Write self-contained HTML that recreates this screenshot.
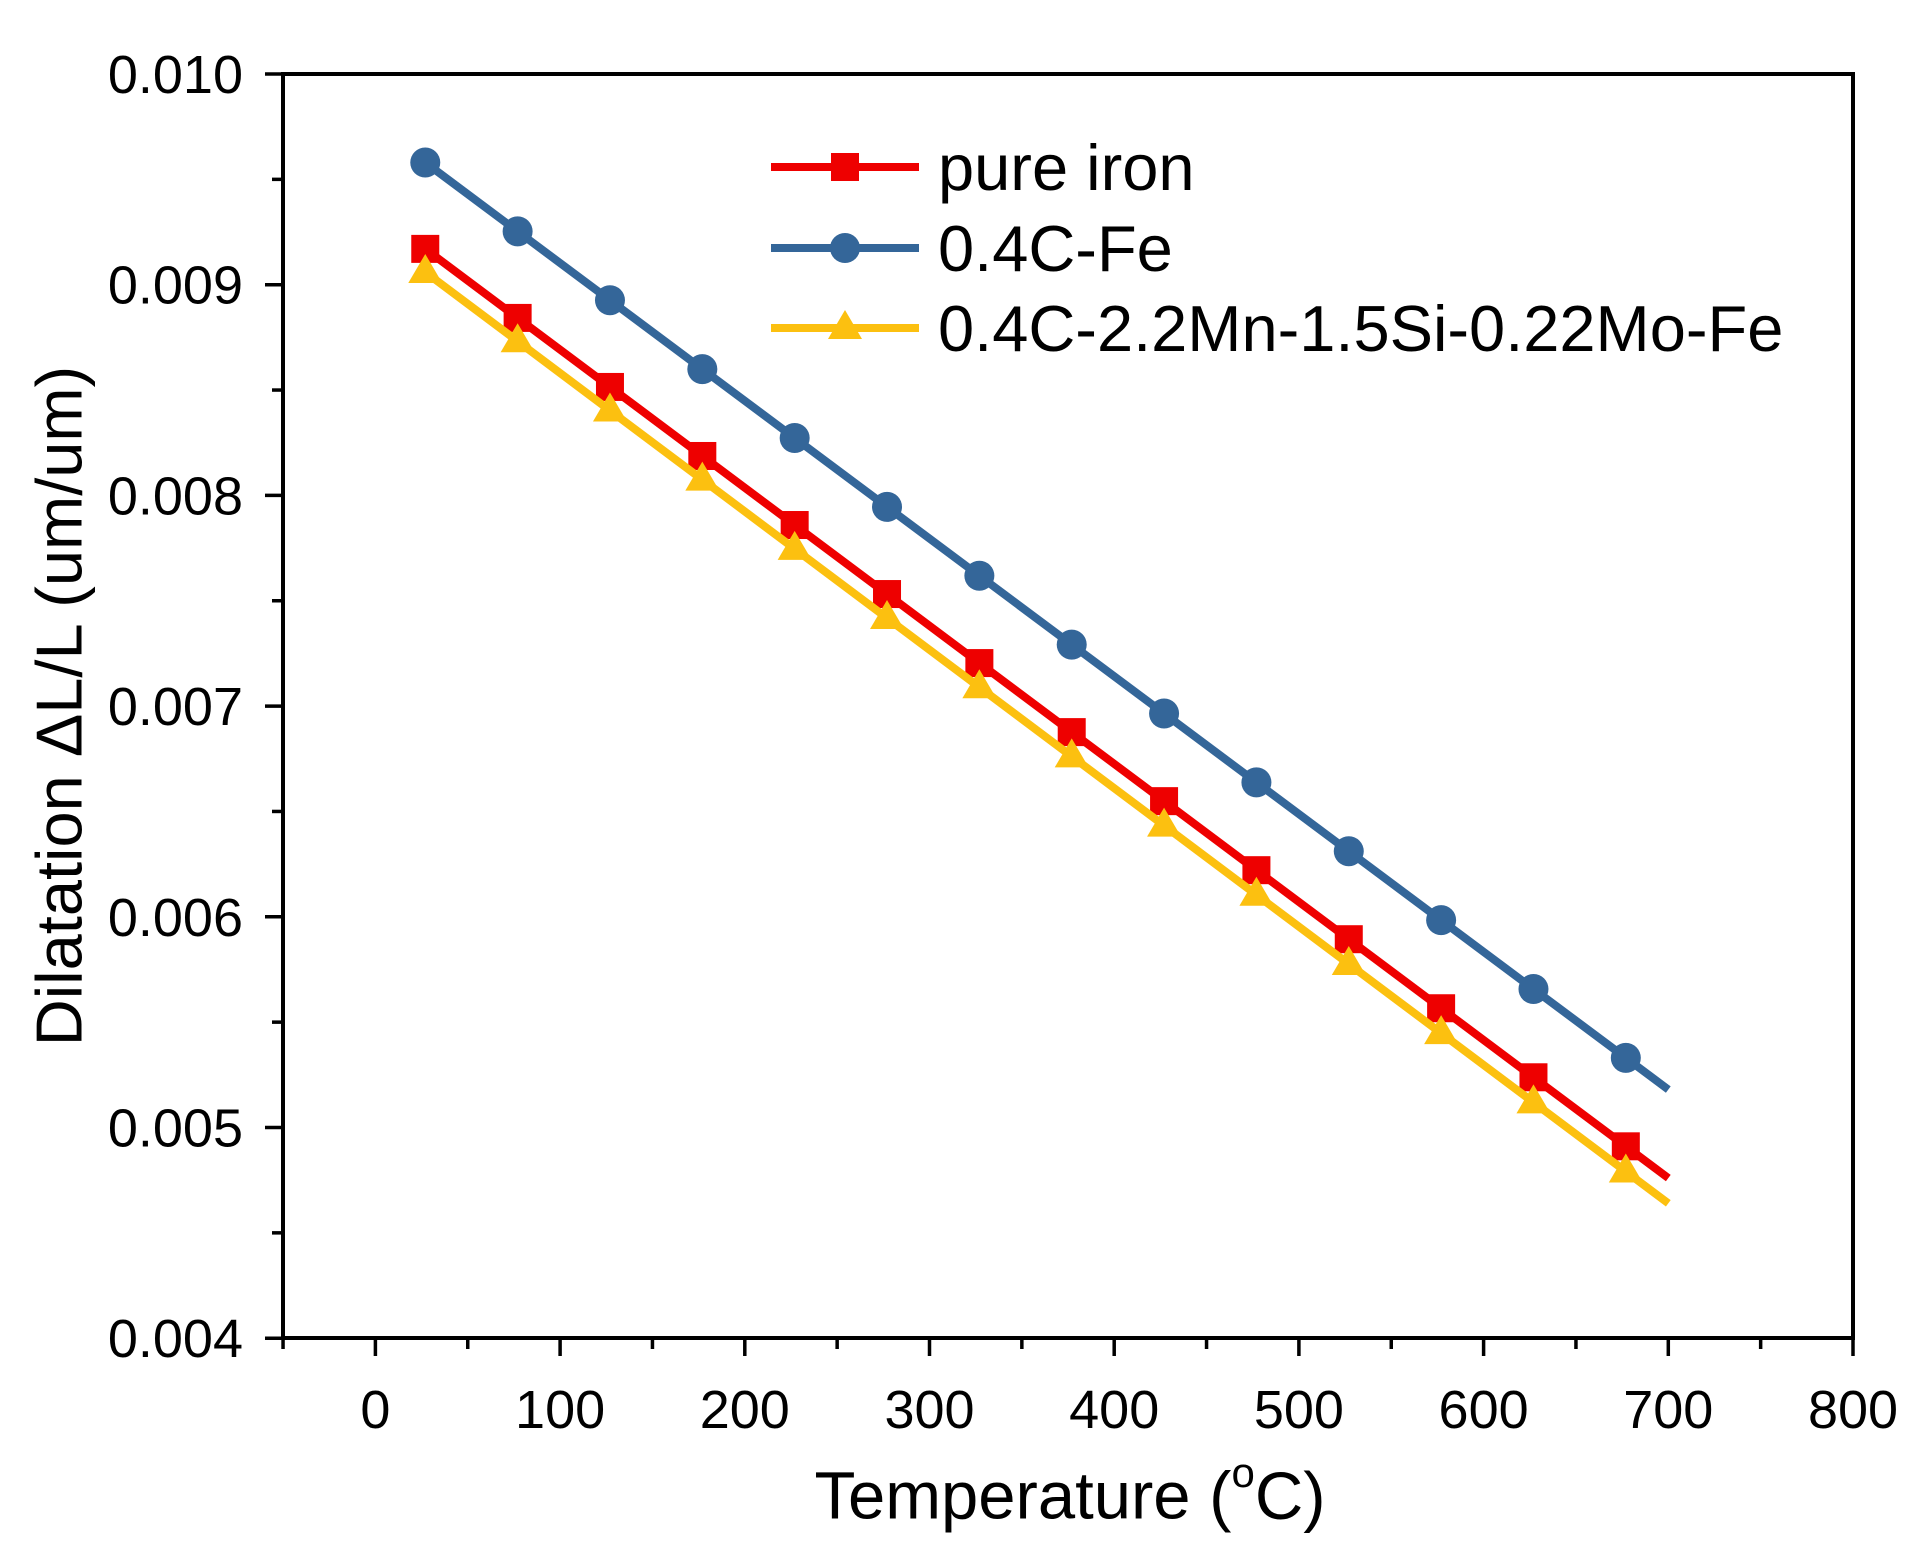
<!DOCTYPE html>
<html><head><meta charset="utf-8"><style>
html,body{margin:0;padding:0;background:#fff;}
svg{display:block;font-family:"Liberation Sans",Arial,sans-serif;}
</style></head><body>
<svg id="s" width="1929" height="1556" viewBox="0 0 1929 1556" xmlns="http://www.w3.org/2000/svg">
<g id="ax"></g>
<g id="data"></g>
<text x="59" y="706" transform="rotate(-90 59 706)" text-anchor="middle" dominant-baseline="central" font-size="65">Dilatation ΔL/L (um/um)</text>
<text x="1070" y="1496" text-anchor="middle" dominant-baseline="central" font-size="67">Temperature (<tspan font-size="42" dy="-24">o</tspan><tspan dy="24">C)</tspan></text>
<g font-size="65">
<line x1="771" y1="167" x2="919" y2="167" stroke="#ee0000" stroke-width="8"/>
<rect x="831" y="153" width="28" height="28" fill="#ee0000"/>
<text x="938" y="190">pure iron</text>
<line x1="771" y1="248" x2="919" y2="248" stroke="#346699" stroke-width="8"/>
<circle cx="845" cy="248" r="15" fill="#346699"/>
<text x="938" y="271">0.4C-Fe</text>
<line x1="771" y1="328" x2="919" y2="328" stroke="#fcc010" stroke-width="8"/>
<polygon points="845,310 862,339 828,339" fill="#fcc010"/>
<text x="938" y="351">0.4C-2.2Mn-1.5Si-0.22Mo-Fe</text>
</g>
</svg>
<script>
const NS="http://www.w3.org/2000/svg";
const X=t=>375.4+1.847*t, Y=v=>74+(0.010-v)*210700;
const ax=document.getElementById('ax'), dg=document.getElementById('data');
function el(p,tag,a,txt){const e=document.createElementNS(NS,tag);for(const k in a)e.setAttribute(k,a[k]);if(txt!==undefined)e.textContent=txt;p.appendChild(e);return e;}
el(ax,'rect',{x:283,y:74,width:1570,height:1264,fill:'none',stroke:'#000','stroke-width':4});
for(let t=-50;t<=800;t+=50){const x=X(t);const maj=t%100===0;
 el(ax,'line',{x1:x,y1:1338,x2:x,y2:1338+(maj?18:11),stroke:'#000','stroke-width':3.5});
 if(maj&&t>=0) el(ax,'text',{x:x,y:1428,'text-anchor':'middle','font-size':54},String(t));}
for(let i=0;i<=12;i++){const v=0.004+i*0.0005;const y=Y(v);const maj=i%2===0;
 el(ax,'line',{x1:283,y1:y,x2:283-(maj?18:11),y2:y,stroke:'#000','stroke-width':3.5});
 if(maj) el(ax,'text',{x:243,y:y+19,'text-anchor':'end','font-size':54},v.toFixed(3));}
const series=[
 {c:'#346699',a:0.00958,b:0.00518,m:'c'},
 {c:'#ee0000',a:0.00917,b:0.00476,m:'s'},
 {c:'#fcc010',a:0.00906,b:0.00464,m:'t'}];
for(const s of series){
 const f=t=>s.a+(s.b-s.a)*(t-27)/(700-27);
 el(dg,'line',{x1:X(27),y1:Y(f(27)),x2:X(700),y2:Y(f(700)),stroke:s.c,'stroke-width':8});
 for(let t=27;t<=700;t+=50){const x=X(t),y=Y(f(t));
  if(s.m==='c')el(dg,'circle',{cx:x,cy:y,r:15,fill:s.c});
  else if(s.m==='s')el(dg,'rect',{x:x-14,y:y-14,width:28,height:28,fill:s.c});
  else el(dg,'polygon',{points:`${x},${y-18} ${x+17},${y+11} ${x-17},${y+11}`,fill:s.c});}
}
</script>
</body></html>
